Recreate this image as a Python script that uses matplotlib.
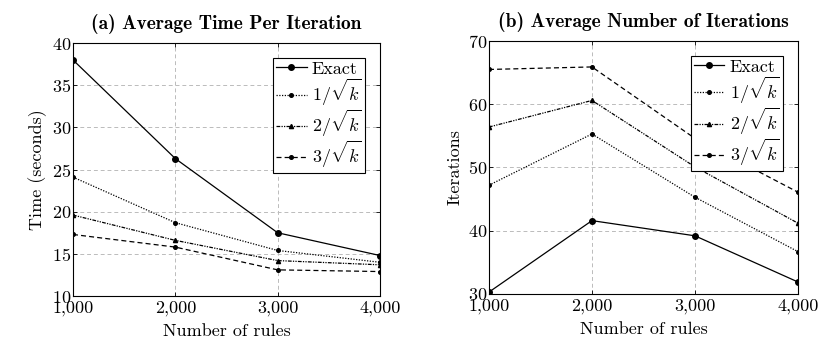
import matplotlib
matplotlib.use('Agg')
import matplotlib.pyplot as plt
from matplotlib.ticker import FuncFormatter

plt.rcParams['font.family'] = ['cmr10', 'DejaVu Serif']
plt.rcParams['mathtext.fontset'] = 'cm'
plt.rcParams['axes.formatter.use_mathtext'] = True

rules = [1000, 2000, 3000, 4000]
labels = ['Exact', r'$1/\sqrt{k}$', r'$2/\sqrt{k}$', r'$3/\sqrt{k}$']

time_exact = [38.0, 26.3, 17.5, 14.8]
time_k1 = [24.1, 18.7, 15.4, 14.0]
time_k2 = [19.6, 16.6, 14.2, 13.7]
time_k3 = [17.3, 15.8, 13.1, 12.9]

iter_exact = [30.3, 41.6, 39.2, 31.9]
iter_k1 = [47.2, 55.3, 45.3, 36.7]
iter_k2 = [56.4, 60.6, 50.1, 41.2]
iter_k3 = [65.5, 65.9, 54.6, 46.1]

styles = [
    dict(linestyle='-', marker='o', markersize=4),
    dict(linestyle=(0, (1, 1.2)), marker='o', markersize=2.6),
    dict(linestyle=(0, (3, 1, 1, 1, 1, 1)), marker='^', markersize=3),
    dict(linestyle=(0, (4, 2.5)), marker='o', markersize=2.6),
]

fig = plt.figure(figsize=(8.2, 3.46), dpi=100)
ax1 = fig.add_axes([0.089, 0.1445, 0.3744, 0.731])
ax2 = fig.add_axes([0.5963, 0.1503, 0.3768, 0.7312])


def setup(ax, series, ylim, yticks, ylabel, title):
    for ys, lab, st in zip(series, labels, styles):
        ax.plot(rules, ys, color='black', linewidth=0.9, label=lab, **st)
    ax.set_xlim(1000, 4000)
    ax.set_ylim(*ylim)
    ax.set_xticks(rules)
    ax.set_yticks(yticks)
    ax.xaxis.set_major_formatter(FuncFormatter(lambda v, p: f'{int(v):,}'))
    ax.grid(True, color='#bbbbbb', linestyle=(0, (4, 3)), linewidth=0.7)
    ax.tick_params(direction='in', top=True, right=True, labelsize=13,
                   length=3, width=0.6, pad=1)
    ax.tick_params(axis='x', pad=3)
    for s in ax.spines.values():
        s.set_linewidth(0.8)
    ax.set_xlabel('Number of rules', fontsize=13, labelpad=6)
    ax.set_ylabel(ylabel, fontsize=13, labelpad=4)
    ax.set_title(title, fontsize=14, fontfamily='cmb10', pad=10)
    leg = ax.legend(loc='upper right', fontsize=13, fancybox=False,
                    edgecolor='black', framealpha=1, handlelength=1.7,
                    borderpad=0.15, labelspacing=0.0, handletextpad=0.3,
                    borderaxespad=0.85)
    leg.get_frame().set_linewidth(0.8)


setup(ax1, [time_exact, time_k1, time_k2, time_k3], (10, 40),
      [10, 15, 20, 25, 30, 35, 40], 'Time (seconds)',
      '(a) Average Time Per Iteration')
setup(ax2, [iter_exact, iter_k1, iter_k2, iter_k3], (30, 70),
      [30, 40, 50, 60, 70], 'Iterations',
      '(b) Average Number of Iterations')

fig.savefig('out.png', dpi=100)
